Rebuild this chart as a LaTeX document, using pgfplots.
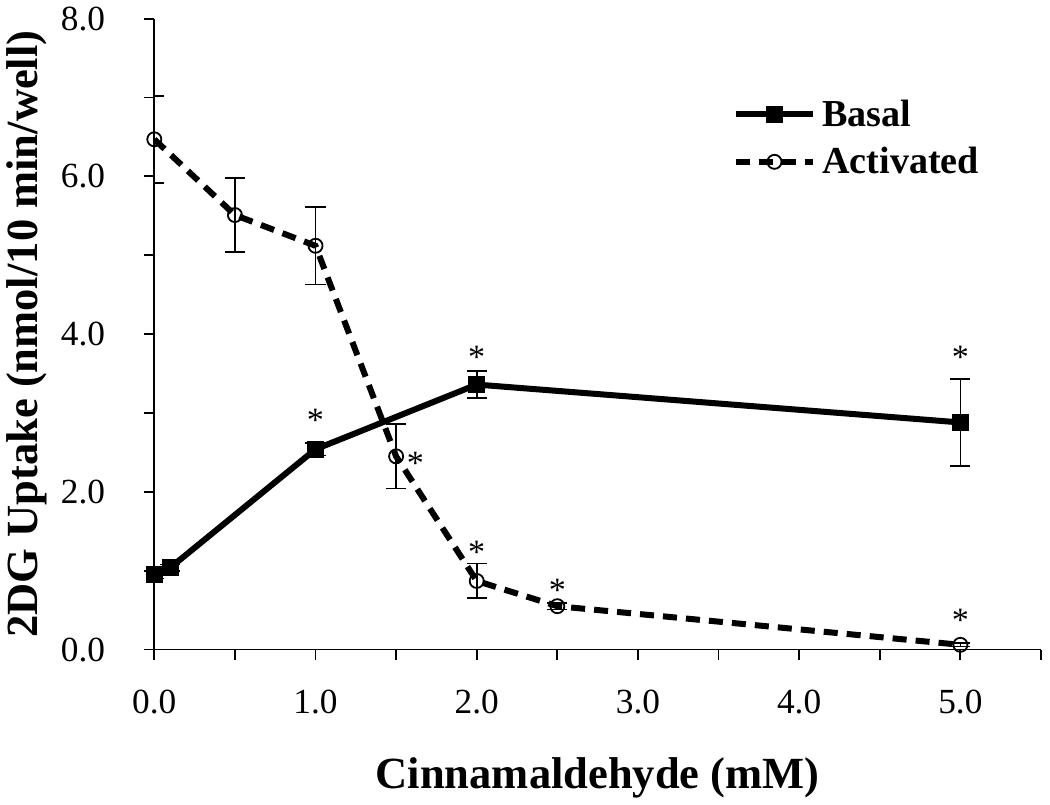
\documentclass[border=0pt]{standalone}
\usepackage{fontspec}
\setmainfont{Liberation Serif}
\usepackage{pgfplots}
\pgfplotsset{compat=1.18}
\begin{document}
\begin{tikzpicture}
\begin{axis}[
  name=ax,
  scale only axis, width=442pt, height=314.5pt,
  xmin=0, xmax=5.5, ymin=0, ymax=8,
  axis lines*=left,
  axis line style={line width=0.9pt},
  xtick={0,1,2,3,4,5}, minor xtick={0.5,1.5,2.5,3.5,4.5,5.5},
  ytick={0,2,4,6,8}, minor ytick={1,3,5,7},
  tick align=outside, major tick length=5pt, minor tick length=5pt,
  every tick/.style={black, line width=0.9pt},
  /pgf/number format/fixed, /pgf/number format/fixed zerofill,
  /pgf/number format/precision=1, /pgf/number format/assume math mode=true,
  ticklabel style={font=\fontsize{17.6}{20}\selectfont},
  xticklabel style={yshift=-11.5pt},
  yticklabel style={xshift=-16pt},
  xlabel={Cinnamaldehyde (mM)},
  ylabel={2DG Uptake (nmol/10 min/well)},
  every axis x label/.style={at={(axis description cs:0.5,-0.2035)}, anchor=center,
    font=\fontsize{22.2}{25}\selectfont\bfseries},
  every axis y label/.style={at={(axis description cs:-0.1437,0.5)}, rotate=90, anchor=center,
    font=\fontsize{22.2}{25}\selectfont\bfseries},
  legend style={draw=none, fill=none, at={(axis cs:3.585,7.03)}, anchor=north west,
    font=\fontsize{19}{23}\selectfont\bfseries, row sep=5pt, column sep=1pt, inner sep=0pt},
  legend cell align=left,
  legend image code/.code={
    \draw[mark repeat=2,mark phase=2,#1] plot coordinates {(0cm,0cm) (0.68cm,0cm) (1.36cm,0cm)};
  },
]
\addplot[black, line width=3pt, mark=square*, mark size=3.9pt, mark options={solid, line width=0.5pt},
  error bars/.cd, y dir=both, y explicit,
  error bar style={line width=0.8pt, solid},
  error mark options={rotate=90, mark size=5pt, line width=0.8pt, solid}]
  table[x=x, y=y, y error=e] {
x y e
0 0.95 0.05
0.1 1.04 0.04
1 2.54 0.08
2 3.36 0.17
5 2.88 0.55
};
\addlegendentry{Basal}
\addplot[black, line width=3pt, dash pattern=on 7pt off 4.5pt, mark=o, mark size=3.5pt,
  mark options={solid, fill=white, line width=0.9pt},
  error bars/.cd, y dir=both, y explicit,
  error bar style={line width=0.8pt, solid},
  error mark options={rotate=90, mark size=5pt, line width=0.8pt, solid}]
  table[x=x, y=y, y error=e] {
x y e
0 6.47 0.55
0.5 5.51 0.47
1 5.12 0.49
1.5 2.45 0.41
2 0.87 0.22
2.5 0.55 0.04
5 0.06 0.02
};
\addlegendentry{Activated}
\addplot[forget plot, only marks, mark=none, nodes near coords={*},
  nodes near coords style={anchor=center, inner sep=0pt, font=\fontsize{17}{19}\selectfont}]
  coordinates {(1,2.91) (2,3.70) (5,3.70) (1.62,2.36) (2,1.23) (2.5,0.75) (5,0.37)};
\end{axis}
\path ([xshift=4.5pt]ax.south east);
\end{tikzpicture}
\end{document}
